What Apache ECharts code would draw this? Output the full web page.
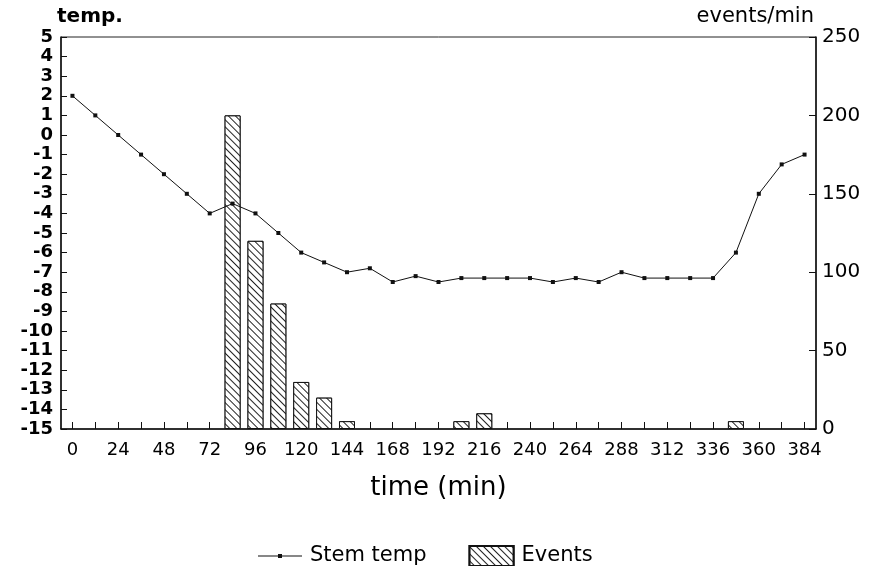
<!DOCTYPE html>
<html>
<head>
<meta charset="utf-8">
<script src="https://cdn.jsdelivr.net/npm/echarts@6/dist/echarts.min.js"></script>
<style>
html,body{margin:0;padding:0;background:#fff;}
#chart{width:873px;height:566px;}
</style>
</head>
<body>
<div id="chart"></div>
<script>
const times = ['0','12','24','36','48','60','72','84','96','108','120','132','144','156','168','180','192','204','216','228','240','252','264','276','288','300','312','324','336','348','360','372','384'];
const stemTemp = [2,1,0,-1,-2,-3,-4,-3.5,-4,-5,-6,-6.5,-7,-6.8,-7.5,-7.2,-7.5,-7.3,-7.3,-7.3,-7.3,-7.5,-7.3,-7.5,-7,-7.3,-7.3,-7.3,-7.3,-6,-3,-1.5,-1];
const events = [null,null,null,null,null,null,null,200,120,80,30,20,5,null,null,null,null,5,10,null,null,null,null,null,null,null,null,null,null,5,null,null,null];
const seriesNames = ['Stem temp','Events'];
const axisTitles = {left:'temp.', right:'events/min', x:'time (min)'};

const FONT = 'DejaVu Sans';
const chart = echarts.init(document.getElementById('chart'), null, {renderer:'canvas'});
chart.setOption({
  animation:false,
  backgroundColor:'#fff',
  grid:{left:61,right:57,top:37,bottom:137,show:true,borderColor:'#222',borderWidth:1,backgroundColor:'transparent'},
  legend:{
    left:253, top:540, itemWidth:44, itemHeight:20, itemGap:42,
    textStyle:{fontFamily:FONT,fontSize:21,color:'#000',padding:[0,0,0,3]},
    data:[
      {name:seriesNames[0], icon:'path://M0,9.5H44V10.5H0Z M20,8H24V12H20Z'},
      {name:seriesNames[1], icon:'rect'}
    ]
  },
  xAxis:{
    type:'category', data:times, boundaryGap:true,
    name:axisTitles.x, nameLocation:'middle', nameGap:46,
    nameTextStyle:{fontFamily:FONT,fontSize:26,color:'#000'},
    axisLine:{onZero:false,lineStyle:{color:'#111',width:1.5}},
    axisTick:{show:true,inside:true,alignWithLabel:true,interval:0,length:7,lineStyle:{color:'#111',width:1}},
    axisLabel:{interval:1,margin:12,fontFamily:FONT,fontSize:18,color:'#000'},
    splitLine:{show:false}
  },
  yAxis:[
    {
      type:'value', min:-15, max:5, interval:1, position:'left',
      name:axisTitles.left, nameLocation:'end', nameGap:10,
      nameTextStyle:{fontFamily:FONT,fontSize:20,fontWeight:'bold',color:'#000',align:'left',padding:[0,0,0,-4]},
      axisLine:{show:true,lineStyle:{color:'#111',width:1.5}},
      axisTick:{show:true,inside:true,length:6,lineStyle:{color:'#111'}},
      axisLabel:{margin:8,fontFamily:FONT,fontSize:18,fontWeight:'bold',color:'#000'},
      splitLine:{show:false}
    },
    {
      type:'value', min:0, max:250, interval:50, position:'right',
      name:axisTitles.right, nameLocation:'end', nameGap:10,
      nameTextStyle:{fontFamily:FONT,fontSize:21,color:'#000',align:'right',padding:[0,2,0,0]},
      axisLine:{show:true,lineStyle:{color:'#111',width:1.5}},
      axisTick:{show:true,inside:true,length:7,lineStyle:{color:'#111'}},
      axisLabel:{margin:6,fontFamily:FONT,fontSize:20,color:'#000'},
      splitLine:{show:false}
    }
  ],
  series:[
    {
      name:seriesNames[0], type:'line', yAxisIndex:0, data:stemTemp,
      symbol:'rect', symbolSize:4, showSymbol:true,
      lineStyle:{color:'#111',width:1}, itemStyle:{color:'#111'}, z:5
    },
    {
      name:seriesNames[1], type:'bar', yAxisIndex:1, data:events, barWidth:16,
      itemStyle:{color:'#fff',borderColor:'#111',borderWidth:1,
        decal:{symbol:'rect',color:'#222',backgroundColor:'#fff',dashArrayX:[1,0],dashArrayY:[1,4],rotation:Math.PI/4}},
      z:3
    }
  ]
});
</script>
</body>
</html>
